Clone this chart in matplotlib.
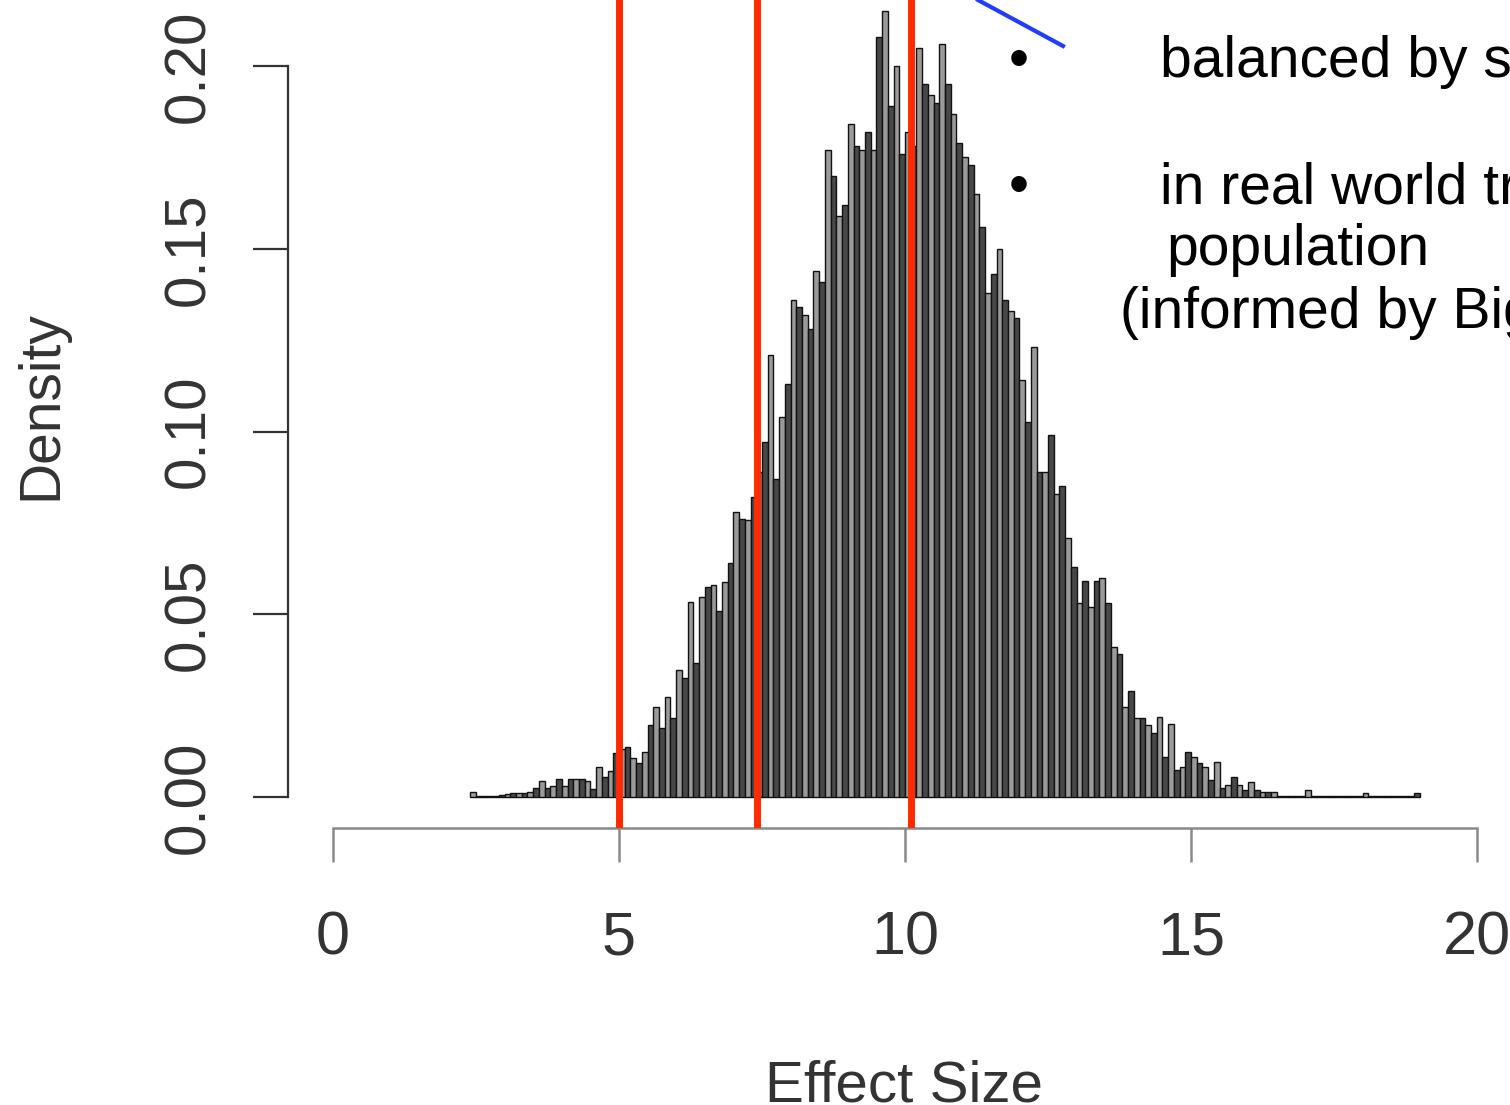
import numpy as np
import matplotlib
matplotlib.use("Agg")
import matplotlib.pyplot as plt
from matplotlib.lines import Line2D

plt.rcParams['font.family'] = ['Liberation Sans', 'DejaVu Sans']

# histogram: density per bin, bins of 0.1 starting at 2.4
bin_start = 2.4
bin_width = 0.1
density = [
    0.0014, 0.0004, 0.0004, 0.0004, 0.0004, 0.0005, 0.0008, 0.0010, 0.0010, 0.0012,  # 2.4-3.3
    0.0015, 0.0025, 0.0045, 0.0025, 0.0030, 0.0050, 0.0030, 0.0050, 0.0048, 0.0048,  # 3.4-4.3
    0.0045, 0.0022, 0.0082, 0.0055, 0.0070, 0.0120, 0.0130, 0.0137, 0.0106, 0.0093,  # 4.4-5.3
    0.0123, 0.0197, 0.0246, 0.0190, 0.0273, 0.0216, 0.0347, 0.0325, 0.0533, 0.0366,  # 5.4-6.3
    0.0546, 0.0574, 0.0580, 0.0510, 0.0587, 0.0640, 0.0780, 0.0760, 0.0757, 0.0820,  # 6.4-7.3
    0.0890, 0.0970, 0.1210, 0.0870, 0.1040, 0.1130, 0.1360, 0.1340, 0.1320, 0.1280,  # 7.4-8.3
    0.1440, 0.1410, 0.1770, 0.1700, 0.1590, 0.1620, 0.1840, 0.1780, 0.1770, 0.1820,  # 8.4-9.3
    0.1770, 0.2080, 0.2150, 0.1890, 0.2000, 0.1760, 0.1820, 0.1780, 0.2050, 0.1950,  # 9.4-10.3
    0.1920, 0.1900, 0.2060, 0.1950, 0.1870, 0.1790, 0.1750, 0.1730, 0.1650, 0.1560,  # 10.4-11.3
    0.1380, 0.1430, 0.1500, 0.1360, 0.1330, 0.1310, 0.1140, 0.1025, 0.1230, 0.0890,  # 11.4-12.3
    0.0890, 0.0990, 0.0830, 0.0850, 0.0710, 0.0630, 0.0530, 0.0590, 0.0520, 0.0590,  # 12.4-13.3
    0.0600, 0.0530, 0.0410, 0.0390, 0.0246, 0.0290, 0.0216, 0.0216, 0.0197, 0.0175,  # 13.4-14.3
    0.0220, 0.0110, 0.0200, 0.0074, 0.0082, 0.0123, 0.0110, 0.0093, 0.0082, 0.0046,  # 14.4-15.3
    0.0096, 0.0025, 0.0033, 0.0055, 0.0033, 0.0020, 0.0040, 0.0020, 0.0013, 0.0013,  # 15.4-16.3
    0.0013, 0.0003, 0.0003, 0.0003, 0.0003, 0.0003, 0.0020, 0.0003, 0.0003, 0.0003,  # 16.4-17.3
    0.0003, 0.0003, 0.0003, 0.0003, 0.0003, 0.0003, 0.0012, 0.0003, 0.0003, 0.0003,  # 17.4-18.3
    0.0003, 0.0003, 0.0003, 0.0003, 0.0003, 0.0012,                                  # 18.4-18.9
]
red_lines = [5.0, 7.41, 10.1]
x_ticks = [0, 5, 10, 15, 20]
y_ticks = [0.00, 0.05, 0.10, 0.15, 0.20]
y_tick_labels = ["0.00", "0.05", "0.10", "0.15", "0.20"]
bullets = ["balanced by s", "in real world tr"]
extra_lines = ["population", "(informed by Big"]

W, H = 1510, 1105
fig = plt.figure(figsize=(W / 100, H / 100), dpi=100)
ax = fig.add_axes([333 / W, 277 / H, 1144 / W, 828 / H])

edges = bin_start + bin_width * np.arange(len(density) + 1)
fills = ['#9a9a9a' if i % 2 == 0 else '#484848' for i in range(len(density))]
ax.bar(edges[:-1], density, width=bin_width, align='edge', color=fills,
       edgecolor='#111111', linewidth=1.0, zorder=2)

for v in red_lines:
    ax.axvline(v, color='#ff2a00', linewidth=5, zorder=3)

ax.set_xlim(0, 20)
ax.set_ylim(-0.00848, 0.21806)

for s in ['top', 'right']:
    ax.spines[s].set_visible(False)
ax.spines['left'].set_position(('outward', 32.4))
ax.spines['left'].set_bounds(0, 0.2)
ax.spines['left'].set_color('#333333')
ax.spines['left'].set_linewidth(1.6)
ax.spines['bottom'].set_bounds(0, 20)
ax.spines['bottom'].set_color('#8a8a8a')
ax.spines['bottom'].set_linewidth(1.8)

ax.set_xticks(x_ticks)
ax.set_xticklabels([str(t) for t in x_ticks])
ax.set_yticks(y_ticks)
ax.set_yticklabels(y_tick_labels, rotation=90, va='center')
ax.tick_params(axis='x', length=24.5, width=1.8, color='#8a8a8a', pad=35,
               labelsize=44, labelcolor='#333333')
ax.tick_params(axis='y', length=25, width=1.6, color='#333333', pad=27,
               labelsize=42, labelcolor='#333333')

fig.text(904 / W, 1 - 1102 / H, "Effect Size", fontsize=42, color='#333333',
         ha='center', va='baseline')
fig.text(56 / W, 1 - 405 / H, "Density", fontsize=41, color='#333333',
         rotation=90, rotation_mode='anchor', ha='center', va='baseline')

# annotation overlay
fig.add_artist(Line2D([978 / W, 1063 / W], [1 - 0 / H, 1 - 46 / H],
                      color='#1f3cff', linewidth=3))
for txt, base in zip(bullets, [77, 203]):
    fig.text(1019 / W, 1 - base / H, "\u2022", fontsize=41, ha='center', va='baseline')
    fig.text(1160 / W, 1 - base / H, txt, fontsize=41, ha='left', va='baseline')
fig.text(1166 / W, 1 - 265 / H, extra_lines[0], fontsize=41, ha='left', va='baseline')
fig.text(1120 / W, 1 - 328 / H, extra_lines[1], fontsize=41, ha='left', va='baseline')

fig.savefig("out.png", dpi=100, facecolor='white')
